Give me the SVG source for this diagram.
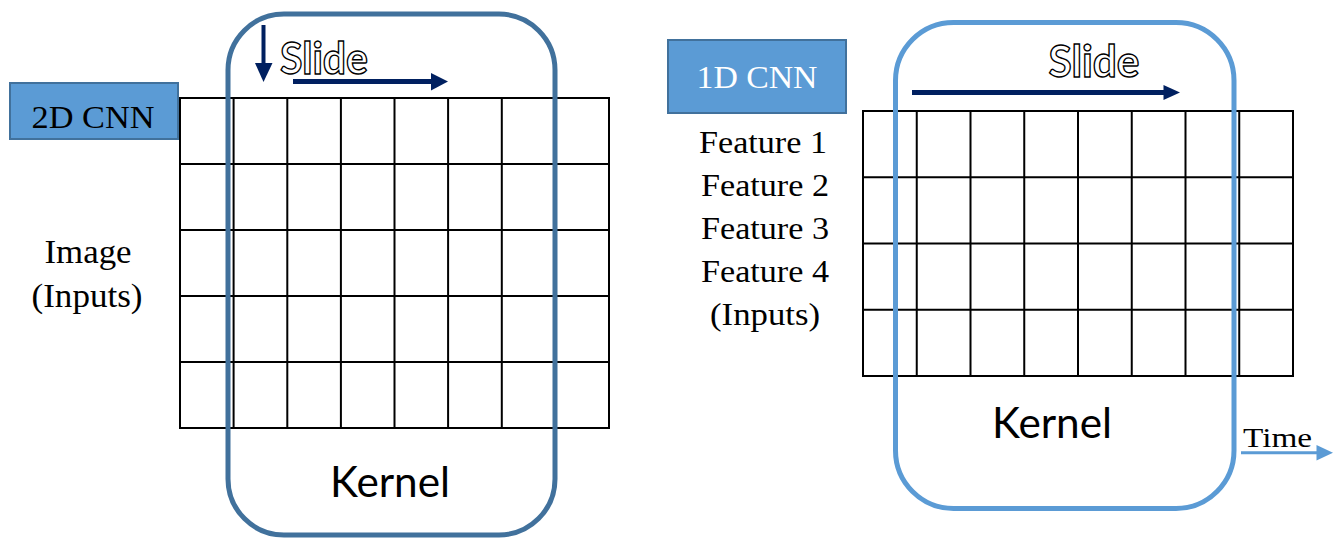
<svg xmlns="http://www.w3.org/2000/svg" width="1333" height="538" viewBox="0 0 1333 538">
<style>
.grid{fill:none;stroke:#000;stroke-width:2}
.label{fill:#5B9BD5;stroke:#41719C;stroke-width:2}
.serif{font-family:"Liberation Serif","Times New Roman",serif;fill:#000}
.sans{font-family:Lato,"Liberation Sans",sans-serif;fill:#000}
.outline{font-family:Lato,"Liberation Sans",sans-serif;font-weight:bold;fill:#fff;stroke:#000;stroke-width:1.4}
.navy{stroke:#002060;fill:none}
.navyh{fill:#002060}
.k2{fill:none;stroke:#41719C;stroke-width:5}
.k1{fill:none;stroke:#5B9BD5;stroke-width:5}
</style>
<rect width="1333" height="538" fill="#fff"/>

<g id="grid2d">
<rect class="grid" x="180" y="98" width="429" height="330"/>
<path class="grid" d="M233.6 98V428M287.3 98V428M340.9 98V428M394.5 98V428M448.1 98V428M501.8 98V428M555.4 98V428M180 164H609M180 230H609M180 296H609M180 362H609"/>
</g>

<g id="grid1d">
<rect class="grid" x="863" y="111" width="430" height="265"/>
<path class="grid" d="M916.75 111V376M970.5 111V376M1024.25 111V376M1078 111V376M1131.75 111V376M1185.5 111V376M1239.25 111V376M863 177.25H1293M863 243.5H1293M863 309.75H1293"/>
</g>

<g id="kernel2d">
<rect class="k2" x="228" y="14" width="327" height="521" rx="56" ry="56"/>
<text class="sans" x="390" y="497" font-size="42" text-anchor="middle" textLength="120" lengthAdjust="spacingAndGlyphs">Kernel</text>
</g>

<g id="kernel1d">
<rect class="k1" x="895.5" y="22.5" width="338.5" height="486" rx="58" ry="58"/>
<text class="sans" x="1052" y="438" font-size="42" text-anchor="middle" textLength="120" lengthAdjust="spacingAndGlyphs">Kernel</text>
</g>

<g id="label2d">
<rect class="label" x="10" y="83" width="168" height="56"/>
<text class="serif" x="93" y="127.5" font-size="32" text-anchor="middle" textLength="123" lengthAdjust="spacingAndGlyphs">2D CNN</text>
</g>

<g id="label1d">
<rect class="label" x="668" y="40" width="178" height="73"/>
<text class="serif" x="757" y="88" font-size="32" text-anchor="middle" textLength="121" lengthAdjust="spacingAndGlyphs" style="fill:#fff">1D CNN</text>
</g>

<g id="inputs2d">
<text class="serif" x="88" y="263" font-size="34" text-anchor="middle" textLength="87" lengthAdjust="spacingAndGlyphs">Image</text>
<text class="serif" x="87" y="307" font-size="34" text-anchor="middle" textLength="111" lengthAdjust="spacingAndGlyphs">(Inputs)</text>
</g>

<g id="inputs1d">
<text class="serif" x="763" y="153" font-size="31" text-anchor="middle" textLength="128" lengthAdjust="spacingAndGlyphs">Feature 1</text>
<text class="serif" x="765" y="196" font-size="31" text-anchor="middle" textLength="128" lengthAdjust="spacingAndGlyphs">Feature 2</text>
<text class="serif" x="765" y="239" font-size="31" text-anchor="middle" textLength="128" lengthAdjust="spacingAndGlyphs">Feature 3</text>
<text class="serif" x="765" y="282" font-size="31" text-anchor="middle" textLength="128" lengthAdjust="spacingAndGlyphs">Feature 4</text>
<text class="serif" x="765" y="325" font-size="31" text-anchor="middle" textLength="110" lengthAdjust="spacingAndGlyphs">(Inputs)</text>
</g>

<g id="slide2d">
<text class="outline" x="280" y="73.5" font-size="44" textLength="88" lengthAdjust="spacingAndGlyphs">Slide</text>
</g>
<g id="slide1d">
<text class="outline" x="1048.5" y="76.5" font-size="44" textLength="91" lengthAdjust="spacingAndGlyphs">Slide</text>
</g>

<g id="time">
<text class="serif" x="1243" y="447.3" font-size="28" textLength="69" lengthAdjust="spacingAndGlyphs">Time</text>
</g>

<g id="connectors">
<line class="navy" x1="263.5" y1="25" x2="263.5" y2="64" stroke-width="4"/>
<polygon class="navyh" points="255,63 272.5,63 263.5,82"/>
<line class="navy" x1="293" y1="81.5" x2="432" y2="81.5" stroke-width="5"/>
<polygon class="navyh" points="431,73 448,81.5 431,90.5"/>
<line class="navy" x1="912" y1="92.5" x2="1165" y2="92.5" stroke-width="5"/>
<polygon class="navyh" points="1163.5,85 1180,92.5 1163.5,100"/>
<line x1="1241" y1="452.7" x2="1318" y2="452.7" stroke="#5B9BD5" stroke-width="3"/>
<polygon fill="#5B9BD5" points="1316.5,445 1333,452.7 1316.5,460.5"/>
</g>
</svg>
